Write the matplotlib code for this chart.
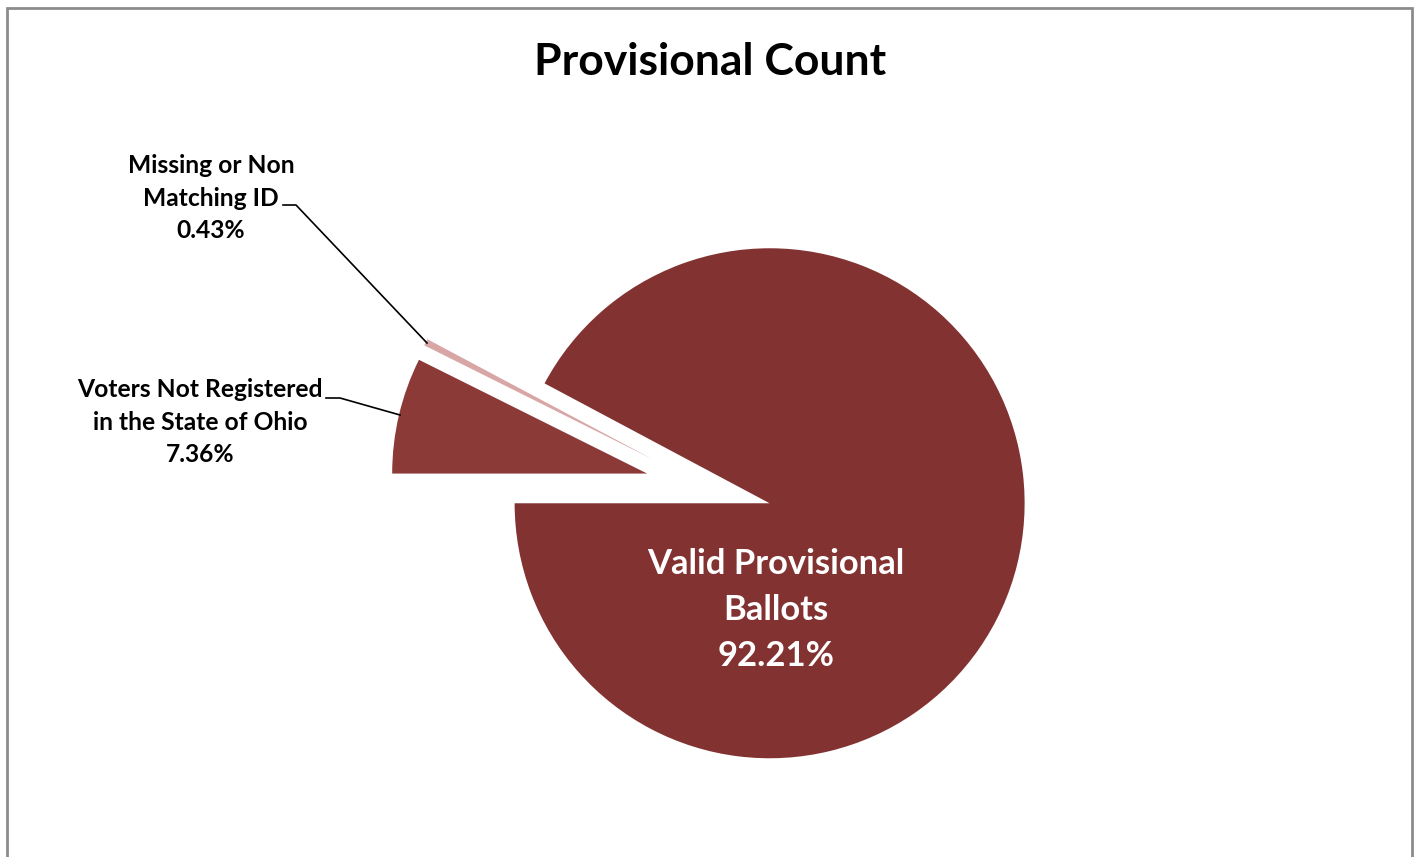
import matplotlib
matplotlib.use("Agg")
import matplotlib.pyplot as plt
from matplotlib.patches import Rectangle

# 데이터
labels = ["Valid Provisional\nBallots", "Missing or Non\nMatching ID", "Voters Not Registered\nin the State of Ohio"]
values = [92.21, 0.43, 7.36]
colors = ["#833232", "#D9A6A6", "#8C3A38"]

W, H = 1419, 857
plt.rcParams["font.family"] = ["Lato", "DejaVu Sans"]

fig = plt.figure(figsize=(W / 100, H / 100), dpi=100)
ax = fig.add_axes([0, 0, 1, 1])

# 파이 (픽셀 좌표계)
wedges, _ = ax.pie(values, colors=colors, startangle=180, counterclock=True,
                   explode=[63, 63, 63], radius=255, center=(708.5, H - 488),
                   wedgeprops=dict(linewidth=0))

ax.set_xlim(0, W)
ax.set_ylim(0, H)
ax.set_aspect("equal")
ax.axis("off")

# 테두리
ax.add_patch(Rectangle((7, -5), 1405, H - 8 + 5, fill=False, edgecolor="#8c8c8c", linewidth=2))

# 제목
ax.text(710, H - 62, "Provisional Count", ha="center", va="center",
        fontsize=32, fontweight="bold", color="black")

# 라벨
ax.text(776, H - 610, f"{labels[0]}\n{values[0]:.2f}%", ha="center", va="center",
        fontsize=24.9, fontweight="bold", color="white", linespacing=1.54)
ax.text(211, H - 198, f"{labels[1]}\n{values[1]:.2f}%", ha="center", va="center",
        fontsize=17.7, fontweight="bold", color="black", linespacing=1.5)
ax.text(200, H - 422, f"{labels[2]}\n{values[2]:.2f}%", ha="center", va="center",
        fontsize=17.7, fontweight="bold", color="black", linespacing=1.5)

# 지시선
ax.plot([283, 296, 427], [H - 205, H - 205, H - 343], color="black", linewidth=1.2)
ax.plot([326, 340, 400], [H - 398, H - 398, H - 415], color="black", linewidth=1.2)

fig.savefig("out.png", dpi=100)
